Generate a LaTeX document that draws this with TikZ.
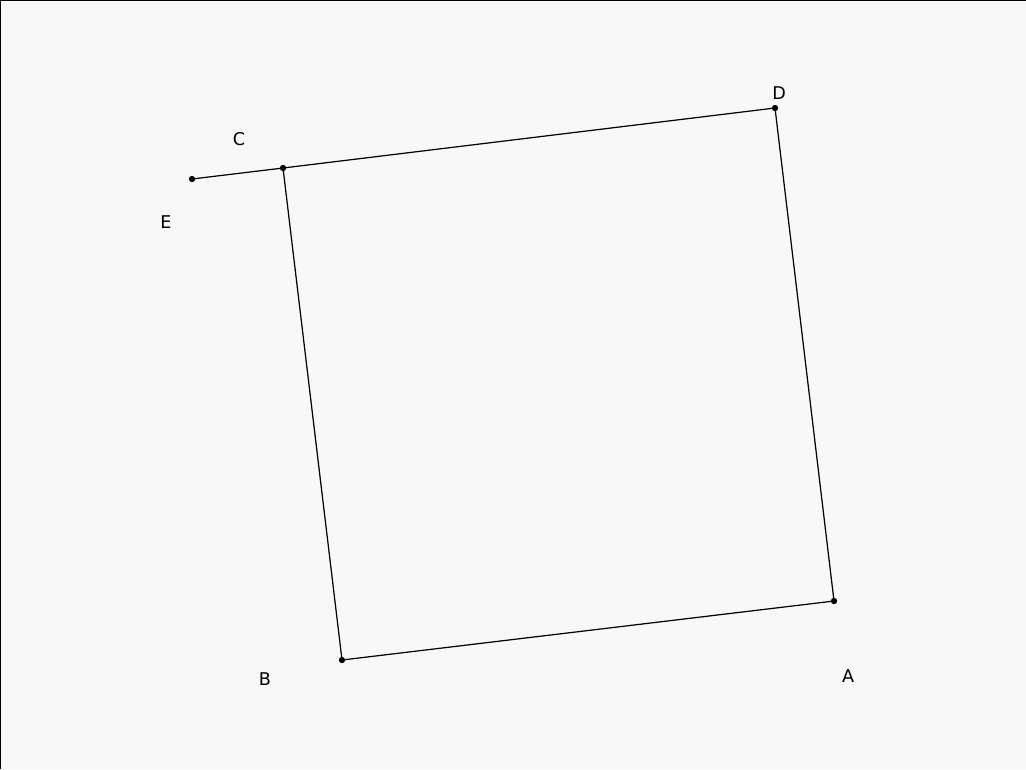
\documentclass[tikz,border=0pt]{standalone}
\usepackage{fontspec}
\setmainfont{DejaVu Sans}
\usepackage{xcolor}
\usetikzlibrary{positioning}
\definecolor{paper}{HTML}{F8F8F8}

\begin{document}
\begin{tikzpicture}[x=0.02cm,y=-0.02cm,
  pt/.style={circle,fill=black,inner sep=0pt,minimum size=3.6pt},
  lbl/.style={font=\fontsize{10}{12}\selectfont,inner sep=1pt},
  seg/.style={line width=0.7pt}]
\fill[paper] (0,0) rectangle (1026,769);
\useasboundingbox (0,0) rectangle (1026,769);
\draw[line width=1pt] (0,769) -- (0,0) -- (1026,0);
% points
\node[pt] (A) at (834,601) {};
\node[pt] (B) at (342,660) {};
\node[pt] (C) at (283,168) {};
\node[pt] (D) at (775,108) {};
\node[pt] (E) at (192,179) {};
% labels
\node[lbl] (lA) at (848,676) {A};
\node[lbl] (lB) at (265,679) {B};
\node[lbl] (lC) at (239,139) {C};
\node[lbl] (lD) at (779,93) {D};
\node[lbl] (lE) at (166,222) {E};
% sides
\draw[seg] (E.center) -- (C.center);
\draw[seg] (C.center) -- (D.center);
\draw[seg] (D.center) -- (A.center);
\draw[seg] (A.center) -- (B.center);
\draw[seg] (B.center) -- (C.center);
\end{tikzpicture}
\end{document}
